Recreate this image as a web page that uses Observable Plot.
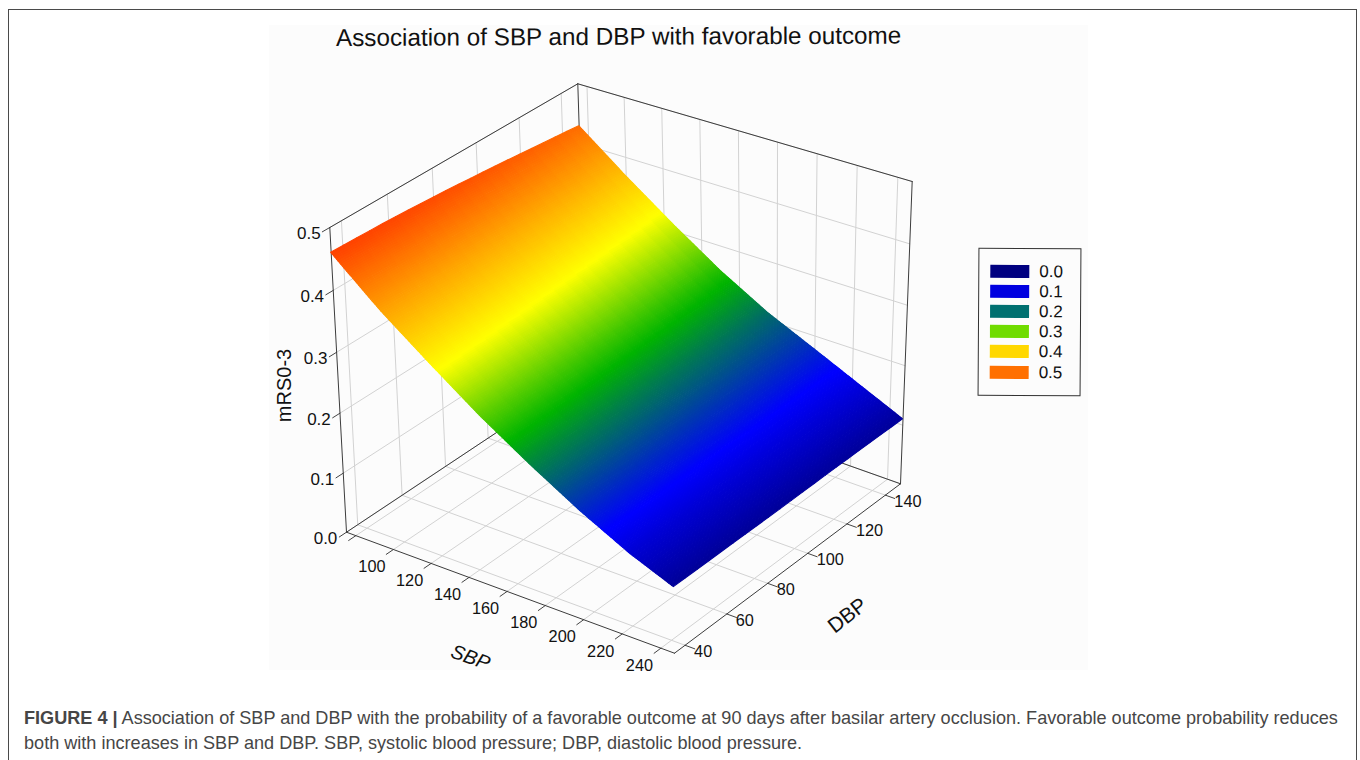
<!DOCTYPE html>
<html><head><meta charset="utf-8">
<script src="https://cdn.jsdelivr.net/npm/d3@7"></script>
<script src="https://cdn.jsdelivr.net/npm/@observablehq/plot@0.6"></script>
<style>
html,body{margin:0;padding:0;background:#fff;overflow:hidden}
body{width:1360px;height:760px;position:relative;font-family:"Liberation Sans",Arial,sans-serif}
#frame{position:absolute;left:8px;top:8.5px;width:1349px;height:800px;border:1.5px solid #4a4a4a;box-sizing:border-box}
#chart{position:absolute;left:0;top:0}
#title{position:absolute;left:336px;top:24px;font-size:24.25px;color:#111;white-space:nowrap;transform:rotate(-.25deg);transform-origin:left center}
#legend{position:absolute;left:978px;top:248px;width:103px;height:148px;border:1.5px solid #333;box-sizing:border-box;transform:rotate(.35deg)}
.row{position:absolute;left:11px;height:13px;width:90px}
.sw{position:absolute;left:0;top:0;width:39px;height:13px}
.lb{position:absolute;left:49px;top:-3px;font-size:17px;line-height:19px;color:#111}
.cap{position:absolute;left:24px;font-size:18.1px;line-height:20px;color:#464646;white-space:nowrap}
</style></head><body>
<div id="frame"></div>
<div id="chart"></div>
<div id="title">Association of SBP and DBP with favorable outcome</div>
<div id="legend"></div>
<div class="cap" style="top:708px"><b>FIGURE 4 |</b> Association of SBP and DBP with the probability of a favorable outcome at 90 days after basilar artery occlusion. Favorable outcome probability reduces</div>
<div class="cap" style="top:733px">both with increases in SBP and DBP. SBP, systolic blood pressure; DBP, diastolic blood pressure.</div>
<script>
// ---- data
const sbpTicks = [80,100,120,140,160,180,200,220,240];
const sbpLabels = [100,120,140,160,180,200,220,240];
const dbpTicks = [40,60,80,100,120,140];
const zTicks = [0,0.1,0.2,0.3,0.4,0.5];
const sbpRange = [75,247];
const dbpRange = [35,148];
const sbpGrid = [75,100,125,150,175,200,225,247];
const dbpGrid = [35,60,85,110,135,148];
const mrsAtDbp35  = [.460,.393,.334,.277,.226,.179,.138,.109];
const mrsAtDbp60  = [.457,.389,.330,.274,.224,.179,.138,.109];
const mrsAtDbp85  = [.451,.384,.325,.270,.221,.178,.139,.109];
const mrsAtDbp110 = [.443,.378,.320,.266,.218,.178,.140,.110];
const mrsAtDbp135 = [.434,.372,.315,.261,.215,.177,.140,.110];
const mrsAtDbp148 = [.429,.368,.311,.258,.213,.177,.141,.110];
const mrs = [mrsAtDbp35,mrsAtDbp60,mrsAtDbp85,mrsAtDbp110,mrsAtDbp135,mrsAtDbp148];
const legendValues = ["0.0","0.1","0.2","0.3","0.4","0.5"];
const legendColors = ["#000080","#0000e0","#007070","#70dc00","#ffd800","#ff7000"];
const surfaceStops = [.105,.158,.248,.325,.46];
const surfaceColors = ["#000090","#0000ff","#00b400","#ffff00","#ff4000"];

// ---- view of the 3-D box: two planes, each a perspective map of the unit square
function homography(p0,p1,p2,p3){
  const dx1=p1[0]-p2[0],dx2=p3[0]-p2[0],sx=p0[0]-p1[0]+p2[0]-p3[0];
  const dy1=p1[1]-p2[1],dy2=p3[1]-p2[1],sy=p0[1]-p1[1]+p2[1]-p3[1];
  const den=dx1*dy2-dx2*dy1;
  const g=(sx*dy2-dx2*sy)/den,h=(dx1*sy-sx*dy1)/den;
  const a=p1[0]-p0[0]+g*p1[0],b=p3[0]-p0[0]+h*p3[0],c=p0[0];
  const d=p1[1]-p0[1]+g*p1[1],e=p3[1]-p0[1]+h*p3[1],f=p0[1];
  return (u,v)=>{const w=g*u+h*v+1;return [(a*u+b*v+c)/w,(d*u+e*v+f)/w];};
}
const floorPlane = homography([346,531.7],[674,652.7],[900,483.3],[586.4,372]);
const topPlane   = homography([329.3,227],[671,340],[911.7,181],[577.3,83.3]);
function project(s,d,z){
  const u=(s-sbpRange[0])/(sbpRange[1]-sbpRange[0]), v=(d-dbpRange[0])/(dbpRange[1]-dbpRange[0]);
  const a=floorPlane(u,v), b=topPlane(u,v);
  const q=z/0.5, t=q/(1+0.04*(1-q));
  return [a[0]+(b[0]-a[0])*t, a[1]+(b[1]-a[1])*t];
}
function seg(rows,id,p,q){
  rows.push({id,x:p[0],y:p[1]},{id,x:q[0],y:q[1]});
}
const [s0,s1]=sbpRange,[d0,d1]=dbpRange,zTop=zTicks[zTicks.length-1];
const grid=[],box=[],ticks=[];
let n=0;
for(const s of sbpTicks){
  seg(grid,n++,project(s,d0,0),project(s,d1,0));
  seg(grid,n++,project(s,d1,0),project(s,d1,zTop));
  seg(ticks,n++,project(s,d0,0),project(s,d0-3.2,0));
}
for(const d of dbpTicks){
  seg(grid,n++,project(s0,d,0),project(s1,d,0));
  seg(grid,n++,project(s0,d,0),project(s0,d,zTop));
  seg(ticks,n++,project(s1,d,0),project(s1+5,d,0));
}
for(const z of zTicks){
  seg(grid,n++,project(s0,d0,z),project(s0,d1,z));
  seg(grid,n++,project(s0,d1,z),project(s1,d1,z));
  seg(ticks,n++,project(s0,d0,z),project(s0,d0-3.2,z));
}
[[s0,d0,0,s1,d0,0],[s1,d0,0,s1,d1,0],[s1,d1,0,s0,d1,0],[s0,d1,0,s0,d0,0],
 [s0,d0,zTop,s0,d1,zTop],[s0,d1,zTop,s1,d1,zTop],
 [s0,d0,0,s0,d0,zTop],[s0,d1,0,s0,d1,zTop],[s1,d1,0,s1,d1,zTop]
].forEach(e=>seg(box,n++,project(e[0],e[1],e[2]),project(e[3],e[4],e[5])));

// surface: Gouraud-style shading of the read mesh, tessellated only for painting
function mrsAt(s,d){
  const i=Math.min(d3.bisectRight(sbpGrid,s)-1,sbpGrid.length-2);
  const j=Math.min(d3.bisectRight(dbpGrid,d)-1,dbpGrid.length-2);
  const a=(s-sbpGrid[i])/(sbpGrid[i+1]-sbpGrid[i]), b=(d-dbpGrid[j])/(dbpGrid[j+1]-dbpGrid[j]);
  return (mrs[j][i]*(1-a)+mrs[j][i+1]*a)*(1-b)+(mrs[j+1][i]*(1-a)+mrs[j+1][i+1]*a)*b;
}
const NS=230,ND=20,cells=[];
for(let i=0;i<NS;i++)for(let j=0;j<ND;j++){
  const sa=s0+(s1-s0)*i/NS,sb=s0+(s1-s0)*(i+1)/NS,da=d0+(d1-d0)*j/ND,db=d0+(d1-d0)*(j+1)/ND;
  const v=mrsAt((sa+sb)/2,(da+db)/2),id=i*ND+j;
  const A=project(sa,da,mrsAt(sa,da)),B=project(sa,db,mrsAt(sa,db)),C=project(sb,da,mrsAt(sb,da)),D=project(sb,db,mrsAt(sb,db));
  cells.push({id,v,x1:A[0],y1:A[1],x2:B[0],y2:B[1]},{id,v,x1:C[0],y1:C[1],x2:D[0],y2:D[1]});
}
const sbpText=sbpLabels.map(s=>{const p=project(s,d0,0);return{t:String(s),x:p[0]-21.5,y:p[1]+17.5};});
const dbpText=dbpTicks.map(d=>{const p=project(s1,d,0);return{t:String(d),x:p[0]+9,y:p[1]+6.5};});
const zText=zTicks.map(z=>{const p=project(s0,d0,z);return{t:z.toFixed(1),x:p[0]-21,y:p[1]+6};});
const backdrop=[{x1:269,x2:1088,y1:25,y2:670}];
const xy={x:"x",y:"y",z:"id"};
const plot=Plot.plot({
  width:1360,height:760,margin:0,
  x:{domain:[0,1360],range:[0,1360],axis:null},
  y:{domain:[0,760],range:[0,760],axis:null},
  color:{type:"linear",domain:surfaceStops,range:surfaceColors},
  style:{fontFamily:"'Liberation Sans',Arial,sans-serif",background:"transparent"},
  marks:[
    Plot.rect(backdrop,{x1:"x1",x2:"x2",y1:"y1",y2:"y2",fill:"#fcfcfc"}),
    Plot.line(grid,{...xy,stroke:"#d2d2d2",strokeWidth:1}),
    Plot.line(ticks,{...xy,stroke:"#444",strokeWidth:1}),
    Plot.line(box,{...xy,stroke:"#3c3c3c",strokeWidth:1}),
    Plot.area(cells,{x1:"x1",y1:"y1",x2:"x2",y2:"y2",z:"id",fill:"v",stroke:"v",strokeWidth:1.1}),
    Plot.text(sbpText,{x:"x",y:"y",text:"t",fontSize:16.3,fill:"#111"}),
    Plot.text(dbpText,{x:"x",y:"y",text:"t",fontSize:16.3,textAnchor:"start",fill:"#111"}),
    Plot.text(zText,{x:"x",y:"y",text:"t",fontSize:17,fill:"#111"}),
    Plot.text(["mRS0-3"],{x:()=>284,y:()=>385,text:d=>d,rotate:-90,fontSize:20,fill:"#111"}),
    Plot.text(["SBP"],{x:()=>470,y:()=>657,text:d=>d,rotate:20,fontSize:20,fontStyle:"italic",fill:"#111"}),
    Plot.text(["DBP"],{x:()=>847,y:()=>615,text:d=>d,rotate:-38,fontSize:21,fill:"#111"})
  ]
});
document.getElementById("chart").appendChild(plot);
const lg=document.getElementById("legend");
legendValues.forEach((t,i)=>{
  const r=document.createElement("div");r.className="row";r.style.top=(16+i*20.1)+"px";
  r.innerHTML=`<div class="sw" style="background:${legendColors[i]}"></div><div class="lb">${t}</div>`;
  lg.appendChild(r);
});
</script>
</body></html>
